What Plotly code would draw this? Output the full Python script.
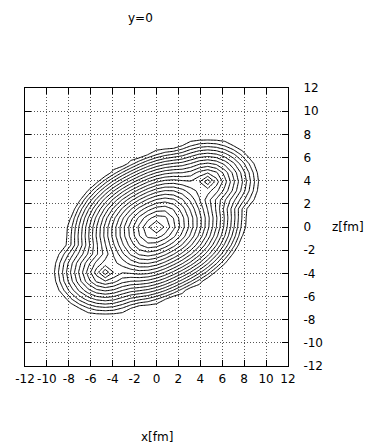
import numpy as np
import plotly.graph_objects as go

# ---- density model: central body plus two side lobes (x-z plane, y=0) ----
lump_names = ["centre", "upper lobe", "lower lobe"]
lump_x = [0.0, 4.68, -4.68]        # fm
lump_z = [0.0, 3.90, -3.90]        # fm
lump_height = [1.00, 0.62, 0.62]
lump_rx = [8.5, 5.0, 5.0]          # semi-axis along the (tilted) x direction, fm
lump_rz = [6.3, 3.9, 3.9]          # semi-axis along the (tilted) z direction, fm
lump_tilt_deg = [25.0, 0.0, 0.0]
lump_shape = [2.4, 2.0, 2.0]       # superellipse exponent of each lump outline
lump_power = [1.25, 1.0, 1.0]      # radial fall-off exponent
blend_power = 6.0

grid_step = 0.78                   # fm, lattice spacing of the density grid
grid_index = np.arange(-16, 17)

# contour levels
n_levels = 22
level_start, level_end, level_step = 1.0 / n_levels, 0.97, 1.0 / n_levels

# axis ticks
tick_vals = [-12, -10, -8, -6, -4, -2, 0, 2, 4, 6, 8, 10, 12]
tick_text = ["-12", "-10", "-8", "-6", "-4", "-2", "0", "2", "4", "6", "8", "10", "12"]

x_nodes = grid_index * grid_step
z_nodes = grid_index * grid_step
X, Z = np.meshgrid(x_nodes, z_nodes)

acc = np.zeros_like(X)
for cx, cz, h, rx, rz, tilt, q, p in zip(lump_x, lump_z, lump_height, lump_rx,
                                         lump_rz, lump_tilt_deg, lump_shape,
                                         lump_power):
    t = np.deg2rad(tilt)
    dx, dz = X - cx, Z - cz
    u = dx * np.cos(t) + dz * np.sin(t)
    v = -dx * np.sin(t) + dz * np.cos(t)
    r = (np.abs(u / rx) ** q + np.abs(v / rz) ** q) ** (1.0 / q)
    val = h * np.clip(1.0 - r ** p, 0.0, None)
    acc += val ** blend_power
density = acc ** (1.0 / blend_power)

FONT = "DejaVu Sans"

fig = go.Figure(
    go.Contour(
        x=x_nodes,
        y=z_nodes,
        z=density,
        autocontour=False,
        contours=dict(coloring="lines", start=level_start, end=level_end,
                      size=level_step, showlabels=False),
        colorscale=[[0, "black"], [1, "black"]],
        showscale=False,
        line=dict(width=1, color="black", smoothing=0),
        hoverinfo="skip",
    )
)

axis_common = dict(
    range=[-12, 12],
    tickmode="array",
    tickvals=tick_vals,
    ticktext=tick_text,
    ticks="inside",
    ticklen=6,
    tickwidth=1,
    tickcolor="black",
    showline=True,
    linecolor="black",
    linewidth=1,
    mirror="ticks",
    showgrid=True,
    gridcolor="#555555",
    griddash="1px,2px",
    gridwidth=1,
    zeroline=False,
    tickangle=0,
    tickfont=dict(family=FONT, size=12, color="black"),
)

fig.update_layout(
    width=381,
    height=447,
    margin=dict(l=25, r=93, t=88, b=81),
    paper_bgcolor="white",
    plot_bgcolor="white",
    showlegend=False,
    xaxis=dict(**axis_common, ticklabelstandoff=2),
    yaxis=dict(**axis_common, side="right", ticklabelstandoff=12),
    annotations=[
        dict(text="y=0", xref="paper", yref="paper", x=0.441, y=1.252,
             xanchor="center", yanchor="middle", showarrow=False,
             font=dict(family=FONT, size=12, color="black")),
        dict(text="x[fm]", xref="paper", yref="paper", x=0.5, y=-0.255,
             xanchor="center", yanchor="middle", showarrow=False,
             font=dict(family=FONT, size=12, color="black")),
        dict(text="z[fm]", xref="paper", yref="paper", x=1.16, y=0.5,
             xanchor="left", yanchor="middle", showarrow=False,
             font=dict(family=FONT, size=12, color="black")),
    ],
)

fig.write_html("out.html")
